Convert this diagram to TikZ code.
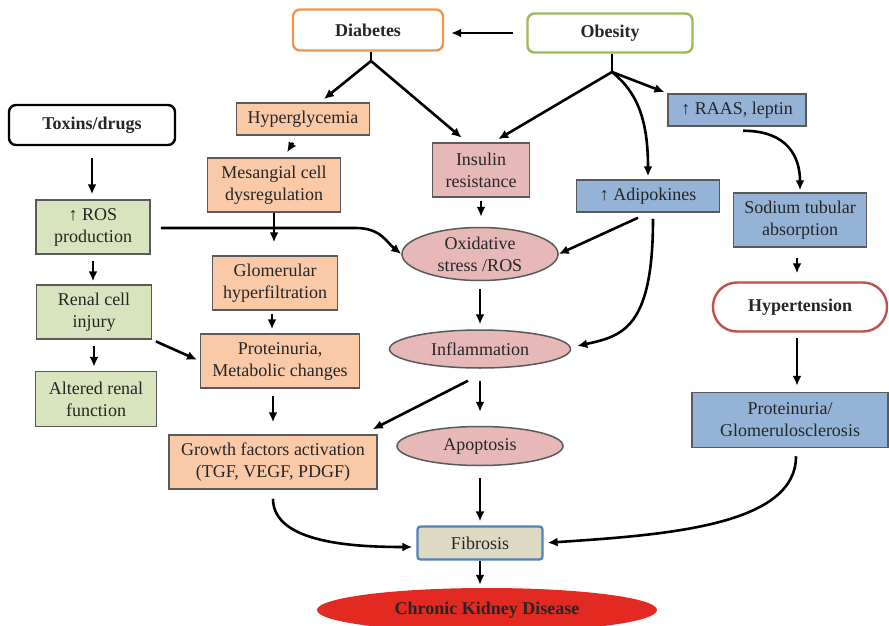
\documentclass[tikz,border=0pt]{standalone}
\usepackage{fontspec}
\setmainfont{Liberation Serif}
\usetikzlibrary{shapes.geometric,arrows.meta,calc}
\definecolor{peach}{HTML}{FAC9A8}
\definecolor{rosy}{HTML}{E6B9B8}
\definecolor{skyblue}{HTML}{95B3D7}
\definecolor{sage}{HTML}{D7E4BD}
\definecolor{sand}{HTML}{DDD9C3}
\definecolor{edge}{HTML}{5A5A5A}
\definecolor{diabcol}{HTML}{F09550}
\definecolor{obescol}{HTML}{9BBB59}
\definecolor{hypcol}{HTML}{C0504D}
\definecolor{fibcol}{HTML}{4F81BD}
\definecolor{ckdcol}{HTML}{E32A22}
\begin{document}
\begin{tikzpicture}[x=1pt,y=-1pt,
        txt/.style={font=\fontsize{18}{22}\selectfont,align=center,inner sep=0pt,text=black!85},
        cause/.style={txt,font=\bfseries\fontsize{18}{22}\selectfont,rectangle,rounded corners=7pt,line width=2.4pt,fill=white},
        box/.style={txt,rectangle,draw=edge,line width=1.5pt},
        oval/.style={txt,ellipse,draw=edge,line width=1.5pt,fill=rosy},
        link/.style={line width=2.6pt},
        arr/.style={link,-{Latex[length=10pt,width=9pt]}}]
    \useasboundingbox (0,0) rectangle (889,626);
    \node[cause,draw=diabcol,minimum width=150pt,minimum height=41pt] (diab) at (368,30) {Diabetes};
    \node[cause,draw=obescol,minimum width=165pt,minimum height=39pt] (obes) at (610,33) {Obesity};
    \node[cause,draw=black,minimum width=166pt,minimum height=40pt] (tox) at (92,125) {Toxins/drugs};
    \node[box,fill=peach,minimum width=133pt,minimum height=32pt] (hypg) at (303,119) {Hyperglycemia};
    \node[box,fill=peach,minimum width=133pt,minimum height=54pt] (mesa) at (274,185) {Mesangial cell\\dysregulation};
    \node[box,fill=rosy,minimum width=97pt,minimum height=54pt] (insr) at (481,170) {Insulin\\resistance};
    \node[box,fill=skyblue,minimum width=138pt,minimum height=32pt] (raas) at (737,110) {↑ RAAS, leptin};
    \node[box,fill=skyblue,minimum width=143pt,minimum height=32pt] (adip) at (648,196) {↑ Adipokines};
    \node[box,fill=sage,minimum width=114pt,minimum height=54pt] (ros) at (93,227) {↑ ROS\\production};
    \node[oval,minimum width=156pt,minimum height=53pt] (oxst) at (480,254) {Oxidative\\stress /ROS};
    \node[box,fill=skyblue,minimum width=133pt,minimum height=54pt] (sodm) at (800,220) {Sodium tubular\\absorption};
    \node[box,fill=peach,minimum width=125pt,minimum height=54pt] (glom) at (275,283) {Glomerular\\hyperfiltration};
    \node[box,fill=sage,minimum width=115pt,minimum height=54pt] (renl) at (94,312) {Renal cell\\injury};
    \node[cause,draw=hypcol,rounded corners=24pt,minimum width=174pt,minimum height=49pt] (hyper) at (800,307) {Hypertension};
    \node[oval,minimum width=181pt,minimum height=38pt] (infl) at (480,349) {Inflammation};
    \node[box,fill=peach,minimum width=159pt,minimum height=54pt] (prot) at (280,361) {Proteinuria,\\Metabolic changes};
    \node[box,fill=sage,minimum width=121pt,minimum height=55pt] (altr) at (96,399) {Altered renal\\function};
    \node[box,fill=skyblue,minimum width=196pt,minimum height=55pt] (pglo) at (790,420) {Proteinuria/\\Glomerulosclerosis};
    \node[box,fill=peach,minimum width=208pt,minimum height=54pt] (grow) at (273,462) {Growth factors activation\\(TGF, VEGF, PDGF)};
    \node[oval,minimum width=166pt,minimum height=39pt] (apop) at (480,446) {Apoptosis};
    \node[box,fill=sand,draw=fibcol,line width=2.2pt,rounded corners=3pt,minimum width=125pt,minimum height=33pt] (fibr) at (480,543) {Fibrosis};
    \node[txt,ellipse,fill=ckdcol,font=\bfseries\fontsize{18}{22}\selectfont,minimum width=340pt,minimum height=44pt] (ckd) at (487,610) {Chronic Kidney Disease};
    \coordinate (dsp) at (371,61);
    \coordinate (osp) at (612,72);
    \draw[arr,shorten <=13pt,shorten >=7pt] (obes.west) -- (diab.east |- obes.west);
    \draw[link] (diab.south -| dsp) -- (dsp);
    \draw[arr,shorten >=5pt] (dsp) -- ($(hypg.north)+(17,0)$);
    \draw[arr,shorten >=7pt] (dsp) -- ($(insr.north)+(-14,0)$);
    \draw[link] (obes.south -| osp) -- (osp);
    \draw[arr,shorten >=6pt] (osp) -- ($(insr.north)+(12,0)$);
    \draw[arr,shorten >=3pt] (osp) .. controls +(25,20) and +(0,-60) .. (adip.north);
    \draw[arr,shorten >=3pt] (osp) -- (raas.north west);
    \draw[arr,shorten >=2pt] ($(raas.south)+(6,4)$) .. controls +(45,0) and +(0,-35) .. (sodm.north);
    \draw[arr] ($(hypg.south)+(-10,7)$) -- ($(mesa.north)+(13,-5)$);
    \draw[arr,shorten <=12pt,shorten >=5pt] (tox.south) -- (tox.south |- ros.north);
    \draw[arr] ($(ros.east)+(10,1)$) -- ++(195,0) .. controls +(25,0) and +(-15,-12) .. (oxst.west);
    \draw[arr,shorten <=3pt,shorten >=10pt] (insr.south) -- (insr.south |- oxst.north);
    \draw[arr] ($(adip.south)+(-10,5)$) -- (oxst.east);
    \draw[arr] ($(adip.south)+(5,6)$) .. controls +(0,110) and +(45,-10) .. ($(infl.east)+(6,-3)$);
    \draw[arr,shorten <=8pt,shorten >=5pt] (oxst.south) -- (infl.north);
    \draw[arr,shorten >=13pt] (mesa.south) -- (mesa.south |- glom.north);
    \draw[arr,shorten <=3pt,shorten >=4pt] ($(glom.south)+(-3,0)$) -- ($(glom.south |- prot.north)+(-3,0)$);
    \draw[arr,shorten <=6pt,shorten >=3pt] (ros.south) -- (ros.south |- renl.north);
    \draw[arr,shorten <=6pt,shorten >=4pt] (renl.south) -- (renl.south |- altr.north);
    \draw[arr,shorten <=4pt,shorten >=3pt] (renl.south east) -- (prot.west);
    \draw[arr,shorten <=7pt,shorten >=12pt] (grow.north |- prot.south) -- (grow.north);
    \draw[arr] ($(infl.south)+(-12,12)$) -- ($(grow.north east)+(-5,-5)$);
    \draw[arr,shorten <=12pt,shorten >=14pt] (infl.south) -- (apop.north);
    \draw[arr,shorten <=12pt,shorten >=4pt] (apop.south) -- (fibr.north);
    \draw[arr,shorten >=3pt] (fibr.south) -- (fibr.south |- ckd.north);
    \draw[arr,shorten >=4pt] ($(grow.south)+(0,9)$) .. controls +(0,45) and +(-60,0) .. ($(fibr.west)+(0,4)$);
    \draw[arr,shorten <=10pt,shorten >=8pt] ($(sodm.south)+(-3,0)$) -- ($(sodm.south |- hyper.north)+(-3,0)$);
    \draw[arr,shorten <=5pt,shorten >=6pt] ($(hyper.south)+(-3,0)$) -- ($(hyper.south |- pglo.north)+(-3,0)$);
    \draw[arr,shorten >=4pt] ($(pglo.south)+(6,8)$) .. controls +(0,70) and +(120,-8) .. (fibr.east);
\end{tikzpicture}
\end{document}
